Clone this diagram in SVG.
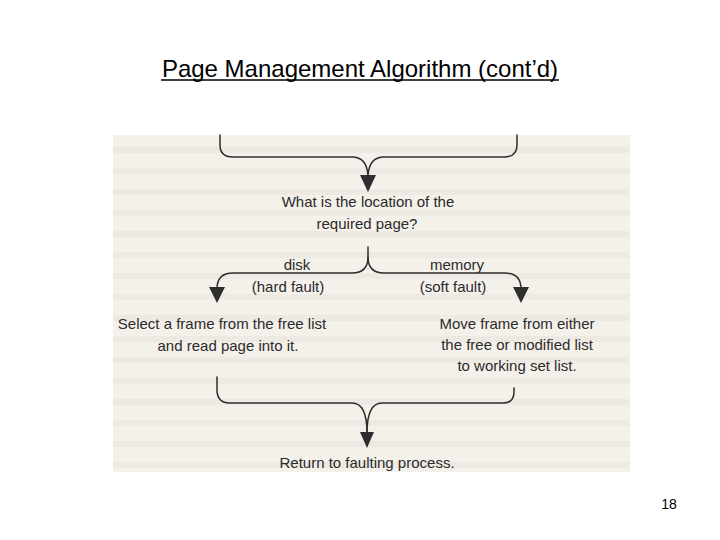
<svg xmlns="http://www.w3.org/2000/svg" width="720" height="540" viewBox="0 0 720 540">
  <defs>
    <style>
      .title { font-family: "Liberation Sans", Arial, sans-serif; font-size: 24px; fill: #000; }
      .lbl { font-family: "Liberation Sans", Arial, sans-serif; font-size: 15px; fill: #2b2b2b; text-anchor: middle; }
      .pg { font-family: "Liberation Sans", Arial, sans-serif; font-size: 14px; fill: #000; text-anchor: middle; }
      .wire { fill: none; stroke: #2e2e2e; stroke-width: 1.5; stroke-linecap: round; }
      .head { fill: #2e2e2e; }
    </style>
    <pattern id="bleed" x="113" y="135" width="517" height="21" patternUnits="userSpaceOnUse">
      <rect x="0" y="12" width="517" height="6" fill="#e3ded6" opacity="0.35"/>
    </pattern>
  </defs>

  <rect width="720" height="540" fill="#ffffff"/>

  <g id="title">
    <text class="title" x="360" y="77" text-anchor="middle">Page Management Algorithm (cont’d)</text>
    <line x1="161" y1="80" x2="559" y2="80" stroke="#000" stroke-width="1.3"/>
  </g>

  <g id="scan">
    <rect x="113" y="135" width="517" height="337" fill="#f4f0ea"/>
    <rect x="113" y="135" width="517" height="337" fill="url(#bleed)"/>
  </g>

  <g id="connectors">
    <path class="wire" d="M220,135 V145 Q220,157 233,157 H352 Q367,157 368,176"/>
    <path class="wire" d="M517,135 V145 Q517,157 504,157 H384 Q369,157 368,176"/>
    <polygon class="head" points="360,175 376,175 368,192"/>

    <path class="wire" d="M368,247 V257 Q368,273 352,273 H233 Q217,273 217,289"/>
    <path class="wire" d="M368,257 Q368,273 384,273 H505 Q521,273 521,289"/>
    <polygon class="head" points="209,287 225,287 217,303"/>
    <polygon class="head" points="513,287 529,287 521,303"/>

    <path class="wire" d="M217,377 V390 Q217,403 230,403 H352 Q367,403 367,433"/>
    <path class="wire" d="M514,388 V392 Q514,403 503,403 H382 Q367,403 367,433"/>
    <polygon class="head" points="360,432 374,432 367,448"/>
  </g>

  <g id="node-question">
    <text class="lbl" x="368" y="207">What is the location of the</text>
    <text class="lbl" x="367" y="229">required page?</text>
  </g>

  <g id="label-disk">
    <text class="lbl" x="297" y="270">disk</text>
    <text class="lbl" x="288" y="292">(hard fault)</text>
  </g>

  <g id="label-memory">
    <text class="lbl" x="457" y="270">memory</text>
    <text class="lbl" x="453" y="292">(soft fault)</text>
  </g>

  <g id="node-select">
    <text class="lbl" x="222" y="329">Select a frame from the free list</text>
    <text class="lbl" x="228" y="351">and read page into it.</text>
  </g>

  <g id="node-move">
    <text class="lbl" x="517" y="329">Move frame from either</text>
    <text class="lbl" x="517" y="350">the free or modified list</text>
    <text class="lbl" x="517" y="371">to working set list.</text>
  </g>

  <g id="node-return">
    <text class="lbl" x="367" y="468">Return to faulting process.</text>
  </g>

  <g id="page-number">
    <text class="pg" x="669" y="509">18</text>
  </g>
</svg>
